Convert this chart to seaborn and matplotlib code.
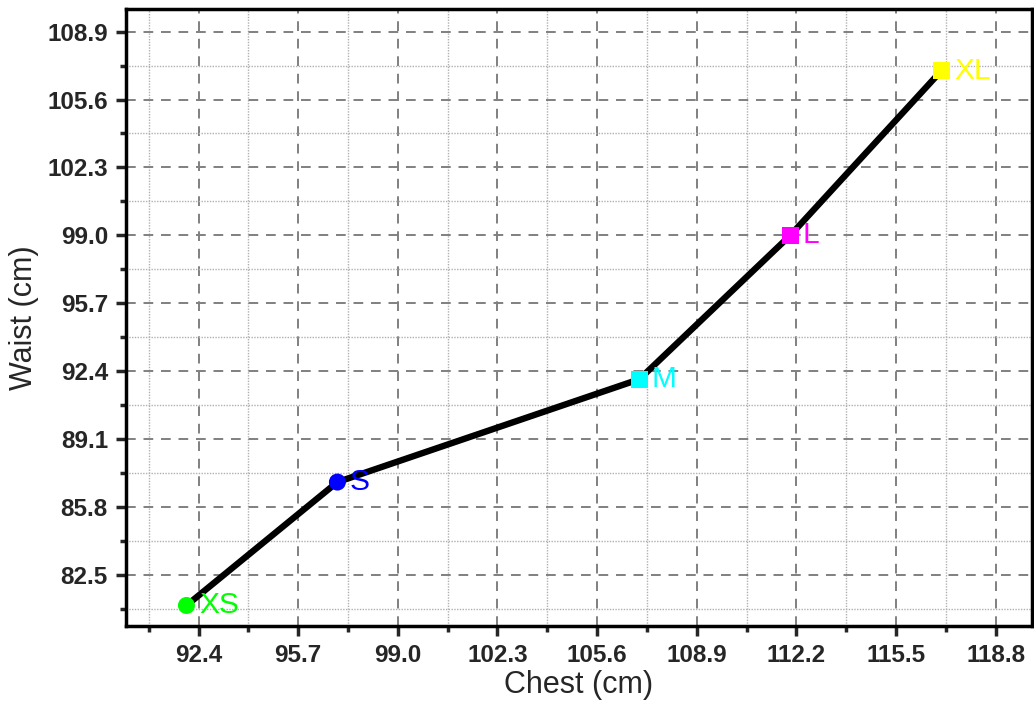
import matplotlib
matplotlib.use("Agg")
import matplotlib.pyplot as plt
import seaborn as sns
import pandas as pd
from matplotlib.ticker import FixedLocator

# size chart data (cm)
sizes = ["XS", "S", "M", "L", "XL"]
chest = [92.0, 97.0, 107.0, 112.0, 117.0]
waist = [81.0, 87.0, 92.0, 99.0, 107.0]
size_colors = ["#00FF00", "#0000FF", "#00FFFF", "#FF00FF", "#FFFF00"]
size_markers = ["o", "o", "s", "s", "s"]

x_ticks = [92.4, 95.7, 99.0, 102.3, 105.6, 108.9, 112.2, 115.5, 118.8]
y_ticks = [82.5, 85.8, 89.1, 92.4, 95.7, 99.0, 102.3, 105.6, 108.9]

df = pd.DataFrame({"size": sizes, "chest": chest, "waist": waist})

sns.set_style("white")
plt.rcParams["font.family"] = ["Liberation Sans", "DejaVu Sans"]

fig = plt.figure(figsize=(10.34, 7.11), dpi=100)
ax = fig.add_axes([0.1219, 0.1195, 0.8761, 0.8678])

# connecting line
sns.lineplot(data=df, x="chest", y="waist", color="black", linewidth=4.6,
             sort=False, ax=ax, zorder=3)

# one marker per size
sns.scatterplot(data=df, x="chest", y="waist", hue="size", style="size",
                palette=dict(zip(sizes, size_colors)),
                markers=dict(zip(sizes, size_markers)),
                s=150, linewidth=0, legend=False, ax=ax, zorder=4)

for s, cx, wy, c in zip(sizes, chest, waist, size_colors):
    ax.annotate(s, (cx, wy), xytext=(9, 0), textcoords="offset points",
                ha="left", va="center", color=c, fontsize=21.5)

ax.set_xlim(90, 120)
ax.set_ylim(80, 110)
ax.xaxis.set_major_locator(FixedLocator(x_ticks))
ax.yaxis.set_major_locator(FixedLocator(y_ticks))
ax.xaxis.set_minor_locator(FixedLocator([t - 1.65 for t in x_ticks] + [x_ticks[-1] + 1.65]))
ax.yaxis.set_minor_locator(FixedLocator([t - 1.65 for t in y_ticks] + [y_ticks[-1] + 1.65]))
ax.set_xticklabels([f"{t:.1f}" for t in x_ticks])
ax.set_yticklabels([f"{t:.1f}" for t in y_ticks])

# grids
ax.grid(which="major", color="#808080", linestyle=(0, (5, 4)), linewidth=1.4)
ax.grid(which="minor", color="#b0b0b0", linestyle=(0, (1, 1)), linewidth=1.0)
ax.set_axisbelow(True)

for side in ["left", "bottom", "top", "right"]:
    ax.spines[side].set_visible(True)
    ax.spines[side].set_linewidth(2.5)
    ax.spines[side].set_color("black")

ax.tick_params(which="major", direction="out", length=7, width=2.5,
               labelsize=17.5, bottom=True, left=True, top=False, right=False, pad=6)
ax.tick_params(which="minor", direction="out", length=4.5, width=2.5,
               bottom=True, left=True, top=False, right=False)
for lab in ax.get_xticklabels() + ax.get_yticklabels():
    lab.set_fontweight("bold")

ax.set_xlabel("Chest (cm)", fontsize=22, labelpad=2)
ax.set_ylabel("Waist (cm)", fontsize=22, labelpad=6)

fig.savefig("out.png", dpi=100)
